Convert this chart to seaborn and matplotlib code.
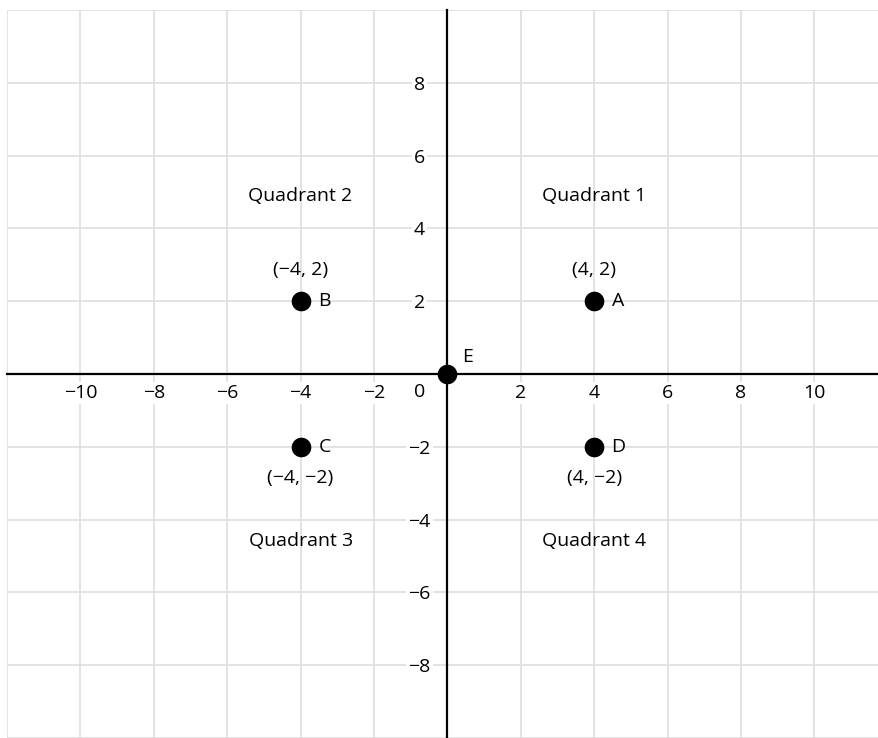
import numpy as np
import pandas as pd
import matplotlib
matplotlib.use("Agg")
import matplotlib.pyplot as plt
import seaborn as sns

# point data
point_names = ["A", "B", "C", "D", "E"]
point_x = [4, -4, -4, 4, 0]
point_y = [2, 2, -2, -2, 0]
coord_labels = ["(4, 2)", "(\u22124, 2)", "(\u22124, \u22122)", "(4, \u22122)", ""]

# quadrant captions
quad_names = ["Quadrant 1", "Quadrant 2", "Quadrant 3", "Quadrant 4"]
quad_x = [4, -4, -4, 4]
quad_y = [4.88, 4.88, -4.58, -4.58]

# grid / tick positions (every 2 units), labels blank where none is shown
x_ticks = list(range(-12, 12, 2))
y_ticks = list(range(-10, 11, 2))
x_labeled = [-10, -8, -6, -4, -2, 2, 4, 6, 8, 10]
y_labeled = [-8, -6, -4, -2, 2, 4, 6, 8]

sns.set_style("white")
plt.rcParams["font.family"] = ["Open Sans", "DejaVu Sans"]
plt.rcParams["text.color"] = "black"
plt.rcParams["xtick.color"] = "black"
plt.rcParams["ytick.color"] = "black"

FS = 14


def fmt(v, shown):
    return str(v).replace("-", "\u2212") if v in shown else ""


df = pd.DataFrame({"x": point_x, "y": point_y, "name": point_names})

fig = plt.figure(figsize=(8.79, 7.38), dpi=100)
ax = fig.add_axes([7 / 879, 0, 872 / 879, 728 / 738])

unit = 36.7
ax.set_xlim(-12, -12 + 872 / unit)
ax.set_ylim(10 - 728 / unit, 10)

ax.set_xticks(x_ticks)
ax.set_xticklabels([fmt(v, x_labeled) for v in x_ticks])
ax.set_yticks(y_ticks)
ax.set_yticklabels([fmt(v, y_labeled) for v in y_ticks])
ax.grid(True, color="#e0e0e0", linewidth=1.3)
ax.set_axisbelow(True)

# axes through the origin
for side in ["top", "right"]:
    ax.spines[side].set_visible(False)
ax.spines["left"].set_position("zero")
ax.spines["bottom"].set_position("zero")
for side in ["left", "bottom"]:
    ax.spines[side].set_color("black")
    ax.spines[side].set_linewidth(1.6)
    ax.spines[side].set_zorder(2)

ax.tick_params(axis="both", length=0, labelsize=FS, labelcolor="black")
ax.tick_params(axis="x", pad=7)
ax.tick_params(axis="y", pad=20)
for lab in ax.get_yticklabels():
    lab.set_horizontalalignment("center")
for lab in ax.get_xticklabels() + ax.get_yticklabels():
    lab.set_bbox(dict(facecolor="white", edgecolor="none", pad=1.5))
ax.text(-0.75, -0.5, "0", ha="center", va="center", fontsize=FS)

sns.scatterplot(data=df, x="x", y="y", s=200, color="black",
                edgecolor="black", linewidth=0, ax=ax, zorder=3, legend=False)
ax.set_xlabel("")
ax.set_ylabel("")

for name, px, py, coord in zip(point_names, point_x, point_y, coord_labels):
    if name == "E":
        ax.text(px + 0.54, py + 0.46, name, ha="center", va="center", fontsize=FS)
        continue
    ax.text(px + 0.65, py, name, ha="center", va="center", fontsize=FS)
    dy = 0.87 if py > 0 else -0.85
    ax.text(px, py + dy, coord, ha="center", va="center", fontsize=FS)

for name, qx, qy in zip(quad_names, quad_x, quad_y):
    ax.text(qx, qy, name, ha="center", va="center", fontsize=FS)

fig.savefig("out.png", dpi=100)
